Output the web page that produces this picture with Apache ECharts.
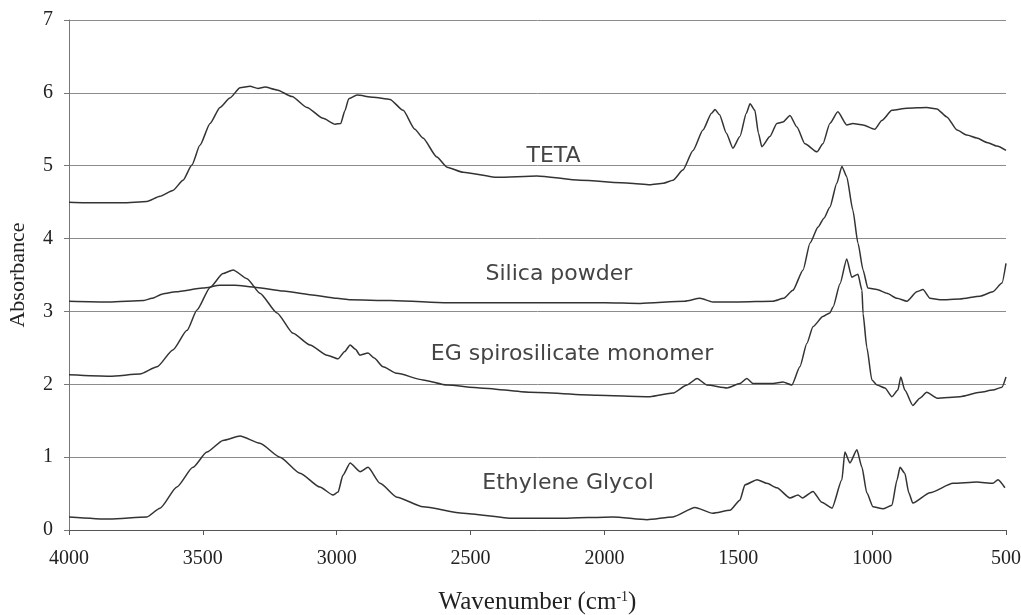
<!DOCTYPE html>
<html>
<head>
<meta charset="utf-8">
<title>FTIR spectra</title>
<script src="https://cdn.jsdelivr.net/npm/echarts@6/dist/echarts.min.js"></script>
<style>
  html, body { margin: 0; padding: 0; background: #fff; }
  #chart { width: 1021px; height: 615px; }
</style>
</head>
<body>
<div id="chart"></div>
<script>
// 坐标刻度
const xTicks = [4000, 3500, 3000, 2500, 2000, 1500, 1000, 500];
const yTicks = [0, 1, 2, 3, 4, 5, 6, 7];

// TETA
const tetaWn = [4000, 3900, 3800, 3709, 3660, 3612, 3574, 3541, 3511, 3473, 3436, 3399, 3361, 3324, 3294, 3268, 3223, 3167, 3111, 3051, 3006, 2985, 2970, 2955, 2924, 2864, 2801, 2752, 2708, 2678, 2626, 2588, 2528, 2401, 2252, 2091, 1905, 1830, 1780, 1744, 1707, 1669, 1632, 1600, 1587, 1570, 1545, 1520, 1494, 1470, 1456, 1438, 1425, 1412, 1382, 1356, 1333, 1307, 1281, 1251, 1206, 1184, 1158, 1128, 1095, 1072, 1034, 990, 964, 926, 870, 796, 758, 721, 683, 646, 609, 571, 534, 500];
const tetaAbs = [4.50, 4.49, 4.49, 4.51, 4.58, 4.66, 4.80, 5.01, 5.28, 5.58, 5.80, 5.93, 6.07, 6.09, 6.06, 6.08, 6.04, 5.95, 5.80, 5.65, 5.57, 5.58, 5.75, 5.92, 5.97, 5.94, 5.91, 5.76, 5.50, 5.38, 5.12, 4.98, 4.91, 4.84, 4.86, 4.80, 4.76, 4.74, 4.76, 4.80, 4.94, 5.21, 5.49, 5.72, 5.77, 5.70, 5.45, 5.24, 5.40, 5.72, 5.85, 5.76, 5.45, 5.26, 5.40, 5.58, 5.60, 5.69, 5.53, 5.30, 5.19, 5.30, 5.58, 5.74, 5.56, 5.58, 5.56, 5.50, 5.62, 5.76, 5.79, 5.80, 5.78, 5.67, 5.49, 5.42, 5.38, 5.32, 5.27, 5.21];

// Silica powder
const silicaWn = [4000, 3850, 3720, 3690, 3650, 3600, 3500, 3436, 3380, 3300, 3200, 3100, 3000, 2950, 2800, 2600, 2400, 2200, 2000, 1867, 1700, 1643, 1595, 1500, 1370, 1330, 1296, 1258, 1232, 1202, 1180, 1158, 1132, 1113, 1095, 1072, 1053, 1034, 1016, 982, 945, 907, 870, 833, 810, 784, 747, 672, 597, 549, 515, 500];
const silicaAbs = [3.14, 3.13, 3.15, 3.18, 3.24, 3.27, 3.32, 3.36, 3.36, 3.33, 3.28, 3.23, 3.18, 3.16, 3.15, 3.12, 3.12, 3.12, 3.12, 3.11, 3.14, 3.18, 3.13, 3.13, 3.14, 3.18, 3.29, 3.57, 3.94, 4.16, 4.28, 4.43, 4.76, 4.99, 4.85, 4.39, 3.94, 3.57, 3.32, 3.30, 3.25, 3.18, 3.14, 3.27, 3.30, 3.18, 3.16, 3.17, 3.21, 3.27, 3.39, 3.66];

// EG spirosilicate monomer
const egWn = [4000, 3847, 3735, 3671, 3612, 3559, 3522, 3473, 3425, 3387, 3335, 3287, 3223, 3163, 3100, 3036, 2995, 2970, 2950, 2930, 2913, 2883, 2860, 2827, 2775, 2678, 2588, 2465, 2278, 2028, 1830, 1744, 1692, 1654, 1617, 1542, 1494, 1468, 1445, 1370, 1333, 1300, 1270, 1244, 1221, 1184, 1158, 1146, 1120, 1095, 1076, 1053, 1038, 1034, 1020, 1001, 982, 952, 926, 904, 893, 878, 848, 822, 796, 758, 672, 597, 549, 515, 500];
const egAbs = [2.13, 2.11, 2.14, 2.24, 2.47, 2.74, 3.02, 3.33, 3.52, 3.57, 3.45, 3.25, 2.98, 2.70, 2.54, 2.40, 2.35, 2.45, 2.54, 2.48, 2.40, 2.43, 2.36, 2.24, 2.15, 2.06, 1.99, 1.95, 1.89, 1.85, 1.83, 1.88, 1.99, 2.08, 1.99, 1.95, 2.01, 2.08, 2.01, 2.01, 2.03, 1.99, 2.24, 2.56, 2.79, 2.93, 2.98, 3.06, 3.38, 3.72, 3.47, 3.51, 3.29, 2.97, 2.51, 2.06, 1.99, 1.95, 1.83, 1.92, 2.10, 1.92, 1.71, 1.81, 1.89, 1.81, 1.83, 1.89, 1.92, 1.96, 2.10];

// Ethylene Glycol
const glycolWn = [4000, 3847, 3709, 3660, 3597, 3537, 3485, 3425, 3361, 3287, 3212, 3137, 3063, 3014, 2995, 2977, 2950, 2913, 2883, 2838, 2775, 2678, 2528, 2342, 2155, 1968, 1841, 1744, 1662, 1595, 1531, 1494, 1475, 1430, 1393, 1356, 1307, 1277, 1260, 1221, 1188, 1150, 1113, 1102, 1083, 1057, 1038, 1020, 997, 960, 926, 907, 896, 878, 863, 848, 784, 698, 609, 549, 530, 504];
const glycolAbs = [0.18, 0.15, 0.18, 0.30, 0.59, 0.86, 1.07, 1.23, 1.29, 1.19, 1.00, 0.78, 0.59, 0.48, 0.52, 0.75, 0.92, 0.80, 0.86, 0.64, 0.45, 0.32, 0.23, 0.16, 0.16, 0.18, 0.14, 0.18, 0.31, 0.23, 0.27, 0.41, 0.62, 0.69, 0.64, 0.58, 0.44, 0.48, 0.44, 0.53, 0.38, 0.30, 0.69, 1.07, 0.92, 1.10, 0.86, 0.51, 0.32, 0.29, 0.34, 0.69, 0.86, 0.78, 0.51, 0.37, 0.51, 0.64, 0.66, 0.64, 0.69, 0.58];

// 曲线名称标注位置 [波数, 吸光度]
const labelNames = ['TETA', 'Silica powder', 'EG spirosilicate monomer', 'Ethylene Glycol'];
const labelPos = [[2190, 5.13], [2170, 3.51], [2121, 2.41], [2136, 0.64]];

const zip = (xs, ys) => xs.map((x, i) => [x, ys[i]]);

const lineColor = '#333';
const serif = '"Liberation Serif", "DejaVu Serif", serif';

function makeSeries(name, xs, ys, idx) {
  return {
    name: name,
    type: 'line',
    data: zip(xs, ys),
    showSymbol: false,
    smooth: 0.2,
    smoothMonotone: 'x',
    lineStyle: { color: lineColor, width: 1.5 },
    markPoint: {
      symbol: 'circle',
      symbolSize: 1,
      itemStyle: { color: 'rgba(0,0,0,0)' },
      label: {
        show: true,
        position: 'inside',
        formatter: name,
        fontFamily: '"DejaVu Sans", sans-serif',
        fontSize: 22,
        color: '#444'
      },
      data: [{ coord: labelPos[idx] }]
    }
  };
}

const chart = echarts.init(document.getElementById('chart'));
chart.setOption({
  animation: false,
  backgroundColor: '#fff',
  grid: { left: 69, right: 15, top: 20, bottom: 85, outerBoundsMode: 'none', containLabel: false },
  xAxis: {
    type: 'value',
    inverse: true,
    min: xTicks[xTicks.length - 1],
    max: xTicks[0],
    interval: 500,
    name: 'Wavenumber (cm{sup|-1})',
    nameLocation: 'middle',
    nameGap: 60,
    nameTextStyle: {
      fontFamily: serif,
      fontSize: 25,
      color: '#222',
      rich: {
        sup: { fontFamily: serif, fontSize: 14, color: '#222', verticalAlign: 'top', padding: [0, 0, 11, 0] }
      }
    },
    axisLine: { show: true, lineStyle: { color: '#555', width: 1 } },
    axisTick: { show: true, length: 5, lineStyle: { color: '#555' } },
    axisLabel: {
      fontFamily: serif,
      fontSize: 20,
      color: '#222',
      margin: 19,
      formatter: (v) => String(v)
    },
    splitLine: { show: false }
  },
  yAxis: {
    type: 'value',
    min: yTicks[0],
    max: yTicks[yTicks.length - 1],
    interval: 1,
    name: 'Absorbance',
    nameLocation: 'middle',
    nameGap: 40,
    nameTextStyle: { fontFamily: serif, fontSize: 22, color: '#222' },
    axisLine: { show: true, lineStyle: { color: '#777', width: 1 } },
    axisTick: { show: true, length: 5, lineStyle: { color: '#777' } },
    axisLabel: { fontFamily: serif, fontSize: 20, color: '#222', margin: 16 },
    splitLine: { show: true, lineStyle: { color: '#8c8c8c', width: 1 } }
  },
  series: [
    makeSeries(labelNames[0], tetaWn, tetaAbs, 0),
    makeSeries(labelNames[1], silicaWn, silicaAbs, 1),
    makeSeries(labelNames[2], egWn, egAbs, 2),
    makeSeries(labelNames[3], glycolWn, glycolAbs, 3)
  ]
});
</script>
</body>
</html>
